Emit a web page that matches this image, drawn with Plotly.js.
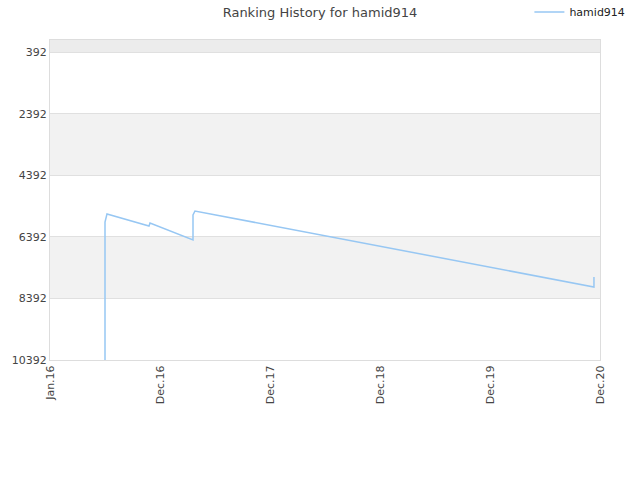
<!DOCTYPE html>
<html><head><meta charset="utf-8">
<script src="https://cdn.plot.ly/plotly-3.0.1.min.js"></script>
<style>body{margin:0;}#chart{width:640px;height:480px;}</style>
</head><body><div id="chart"></div>
<script>
// x positions in tick units (0 = Jan.16, 1 = Dec.16, ... 5 = Dec.20)
const xPos = [0.5, 0.5, 0.518, 0.9, 0.909, 1.3, 1.3, 1.318, 4.945, 4.945];
const ranks = [10392, 5910, 5651, 6040, 5943, 6495, 5683, 5553, 8021, 7697];
const tickPos = [0, 1, 2, 3, 4, 5];
const tickLabels = ["Jan.16", "Dec.16", "Dec.17", "Dec.18", "Dec.19", "Dec.20"];
const yTicks = [392, 2392, 4392, 6392, 8392, 10392];
const bands = [[0, 392, "#ececec"], [2392, 4392, "#f2f2f2"], [6392, 8392, "#f2f2f2"]];

const shapes = bands.map(b => ({type: "rect", xref: "paper", yref: "y", x0: 0, x1: 1, y0: b[0], y1: b[1], fillcolor: b[2], line: {width: 0}, layer: "below"}));

Plotly.newPlot("chart", [{
  x: xPos, y: ranks, type: "scatter", mode: "lines", name: "hamid914",
  line: {color: "#97c7f3", width: 1.5}
}], {
  width: 640, height: 480,
  margin: {l: 50, r: 40, t: 40, b: 120},
  title: {text: "Ranking History for hamid914", font: {family: "DejaVu Sans", size: 13, color: "#444"}, x: 0.5, xanchor: "center", yref: "container", y: 0.975, yanchor: "middle"},
  font: {family: "DejaVu Sans", size: 11, color: "#444"},
  showlegend: true,
  legend: {orientation: "h", xref: "container", x: 0.985, xanchor: "right", yref: "container", y: 0.975, yanchor: "middle", font: {size: 11, color: "#222"}, bgcolor: "rgba(0,0,0,0)"},
  xaxis: {range: [0, 5], tickvals: tickPos, ticktext: tickLabels, tickangle: -90, showgrid: false, zeroline: false, showline: true, linecolor: "#ddd", mirror: true, ticks: "", fixedrange: true},
  yaxis: {range: [10392, 0], tickvals: yTicks, ticktext: yTicks.map(String), showgrid: true, gridcolor: "#e0e0e0", zeroline: false, showline: true, linecolor: "#ddd", mirror: true, ticks: "", fixedrange: true},
  shapes: shapes,
  plot_bgcolor: "#fff", paper_bgcolor: "#fff"
}, {displayModeBar: false, staticPlot: true});
</script></body></html>
